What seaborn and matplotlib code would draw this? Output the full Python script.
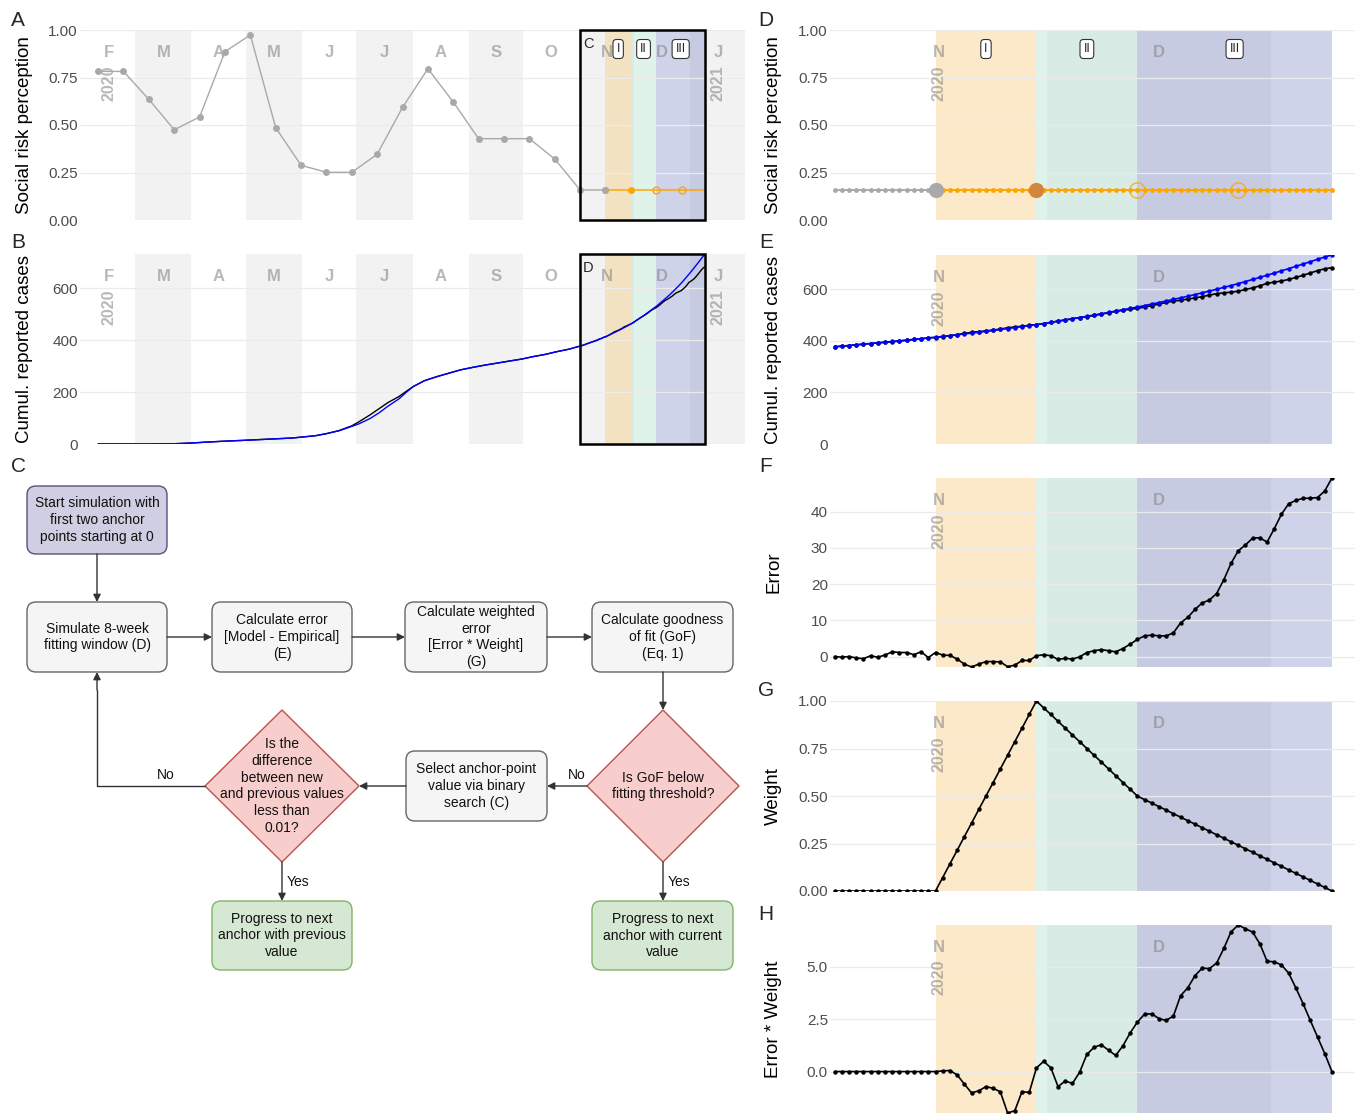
import numpy as np
import pandas as pd
import seaborn as sns
from matplotlib import pyplot as plt
from matplotlib import transforms
from matplotlib.patches import Rectangle, FancyBboxPatch, Polygon

# ---------------- data ----------------
# social risk perception at the two-weekly anchor points (first anchor 9 Feb 2020)
anchor_first = '2020-02-09'
srp_anchor = [0.782, 0.782, 0.635, 0.475, 0.542, 0.886, 0.974, 0.486, 0.288, 0.251,
              0.251, 0.346, 0.593, 0.796, 0.621, 0.428, 0.428, 0.428, 0.321, 0.158,
              0.158, 0.158, 0.158, 0.158]

# cumulative reported cases before the fitting window
cum_dates = ['2020-02-09', '2020-03-10', '2020-03-22', '2020-04-01', '2020-04-08', '2020-04-19',
             '2020-04-29', '2020-05-14', '2020-05-26', '2020-06-08', '2020-06-14', '2020-06-21',
             '2020-06-28', '2020-07-02', '2020-07-08', '2020-07-13', '2020-07-18', '2020-07-24',
             '2020-07-28', '2020-08-01', '2020-08-07', '2020-08-14', '2020-08-21', '2020-08-27',
             '2020-09-03', '2020-09-10', '2020-09-17', '2020-09-23', '2020-09-30', '2020-10-06',
             '2020-10-13', '2020-10-19', '2020-10-26', '2020-10-31']
cum_model_early = [0, 0, 1, 4, 7, 11, 14, 19, 23, 32, 40, 51, 68, 78, 98, 120, 146, 174, 199, 222,
                   244, 260, 274, 286, 296, 305, 313, 320, 328, 337, 346, 356, 366, 376]
cum_emp_early = [0, 0, 1, 4, 7, 11, 14, 19, 23, 32, 40, 52, 70, 86, 112, 136, 160, 183, 203, 222,
                 244, 260, 274, 286, 296, 305, 313, 320, 328, 337, 346, 356, 366, 376]

# 8-week fitting window, daily values from 1 Nov 2020
window_start = '2020-11-01'
srp_window = [0.158] * 70
cum_model = [377.0, 379.4, 381.9, 384.4, 387.0, 389.6, 392.2, 394.9, 397.6, 400.3,
             403.1, 405.9, 408.7, 411.4, 414.0, 417.1, 420.3, 423.5, 426.8, 430.2,
             433.6, 437.1, 440.6, 444.2, 447.9, 451.6, 455.4, 459.2, 463.0, 467.3,
             471.7, 476.2, 480.8, 485.5, 490.3, 495.2, 500.2, 505.3, 510.4, 515.6,
             520.8, 526.0, 531.0, 536.8, 542.7, 548.6, 554.6, 560.7, 566.8, 573.0,
             579.6, 586.3, 593.2, 600.2, 607.3, 614.6, 622.0, 630.0, 638.1, 646.3,
             654.6, 663.0, 671.6, 680.3, 689.1, 698.0, 707.0, 716.1, 725.3, 733.0]
cum_emp = [377.0, 379.6, 381.9, 384.8, 387.6, 389.4, 392.4, 394.5, 396.3, 399.2,
           402.0, 405.4, 407.4, 411.7, 412.9, 416.7, 420.0, 424.2, 428.9, 433.1,
           435.7, 438.5, 442.0, 445.7, 450.7, 454.0, 456.5, 460.3, 462.8, 466.8,
           471.5, 477.0, 481.3, 486.2, 490.4, 494.1, 498.6, 503.4, 508.8, 514.3,
           518.6, 522.6, 526.3, 531.1, 536.8, 542.9, 548.9, 554.2, 557.5, 562.2,
           566.6, 571.5, 577.6, 582.8, 586.1, 588.9, 592.8, 599.2, 605.4, 613.5,
           623.0, 627.7, 632.3, 638.1, 646.0, 654.3, 663.3, 672.2, 679.6, 683.7]
error = [0.0, -0.2, 0.0, -0.4, -0.6, 0.2, -0.2, 0.4, 1.3, 1.1,
         1.1, 0.5, 1.3, -0.3, 1.1, 0.4, 0.3, -0.7, -2.1, -2.9,
         -2.1, -1.4, -1.4, -1.5, -2.8, -2.4, -1.1, -1.1, 0.2, 0.5,
         0.2, -0.8, -0.5, -0.7, -0.1, 1.1, 1.6, 1.9, 1.6, 1.3,
         2.2, 3.4, 4.7, 5.7, 5.9, 5.7, 5.7, 6.5, 9.3, 10.8,
         13.0, 14.8, 15.6, 17.4, 21.2, 25.7, 29.2, 30.8, 32.7, 32.8,
         31.6, 35.3, 39.3, 42.2, 43.1, 43.7, 43.7, 43.9, 45.7, 49.3]
weight = [0, 0, 0, 0, 0, 0, 0, 0, 0, 0, 0, 0, 0, 0, 0,
          0.071, 0.143, 0.214, 0.286, 0.357, 0.429, 0.5, 0.571, 0.643, 0.714, 0.786, 0.857, 0.929, 1.0,
          0.964, 0.929, 0.893, 0.857, 0.821, 0.786, 0.75, 0.714, 0.679, 0.643, 0.607, 0.571, 0.536, 0.5,
          0.481, 0.463, 0.444, 0.426, 0.407, 0.389, 0.370, 0.352, 0.333, 0.315, 0.296, 0.278, 0.259,
          0.241, 0.222, 0.204, 0.185, 0.167, 0.148, 0.130, 0.111, 0.093, 0.074, 0.056, 0.037, 0.019, 0.0]
weighted_error = [0, 0, 0, 0, 0, 0, 0, 0, 0, 0, 0, 0, 0, 0,
                  0.0, 0.03, 0.05, -0.16, -0.60, -1.02, -0.92, -0.72, -0.80, -0.97,
                  -1.98, -1.87, -0.96, -1.0, 0.17, 0.49, 0.18, -0.72, -0.45, -0.57,
                  -0.03, 0.82, 1.16, 1.28, 1.02, 0.77, 1.23, 1.84, 2.36, 2.74,
                  2.76, 2.53, 2.44, 2.65, 3.62, 4.0, 4.58, 4.94, 4.92, 5.18,
                  5.88, 6.67, 7.0, 6.82, 6.66, 6.1, 5.27, 5.24, 5.09, 4.70,
                  3.99, 3.24, 2.44, 1.65, 0.86, 0.0]

phase_names = ['I', 'II', 'III']
phase_edges = ['2020-11-15', '2020-11-29', '2020-12-13', '2021-01-09']
phase_colors = ['#F5CA78', '#B3E2CF', '#8591C8']

# ---------------- helpers ----------------
W, H = 1366, 1114
origin = pd.Timestamp('2020-01-01')


def day(d):
    return (pd.Timestamp(d) - origin).days


anchor_x = [day(d) for d in pd.date_range(anchor_first, periods=len(srp_anchor), freq='14D')]
win_x = [day(window_start) + i for i in range(len(error))]
cum_x = [day(d) for d in cum_dates] + win_x
cum_model_all = cum_model_early + cum_model
cum_emp_all = cum_emp_early + cum_emp
ph_x = [day(d) for d in phase_edges]

sns.set_theme(style='white')
plt.rcParams['font.family'] = ['Liberation Sans', 'DejaVu Sans']
NARROW = ['Liberation Sans Narrow', 'Liberation Sans', 'DejaVu Sans']

fig = plt.figure(figsize=(W / 100, H / 100), dpi=100)


def px_axes(l, t, r, b):
    return fig.add_axes([l / W, 1 - b / H, (r - l) / W, (b - t) / H])


def backdrop(ax, months, xlim, phases=True):
    blend = transforms.blended_transform_factory(ax.transData, ax.transAxes)
    starts = [day(m) - 0.5 for m in months]
    for i in range(len(months) - 1):
        if i % 2 == 1:
            ax.axvspan(starts[i], starts[i + 1], color='#F2F2F2', lw=0, zorder=0.1)
    if phases:
        for i in range(3):
            ax.axvspan(ph_x[i], ph_x[i + 1], color=phase_colors[i], alpha=0.4, lw=0, zorder=0.2)
    first = True
    for i in range(len(months) - 1):
        mid = (starts[i] + starts[i + 1]) / 2
        if not (xlim[0] <= mid <= xlim[1]):
            continue
        ax.text(mid, 0.88, months[i].strftime('%b')[0], transform=blend, ha='center', va='center',
                fontsize=12, fontweight='bold', color='#7F7F7F', alpha=0.55, family=NARROW, zorder=3)
        if first or months[i].month == 1:
            ax.text(mid, 0.72, str(months[i].year), transform=blend, ha='center', va='center',
                    rotation=90, fontsize=11.5, fontweight='bold', color='#7F7F7F', alpha=0.55,
                    family=NARROW, zorder=3)
            first = False


def roman(ax):
    blend = transforms.blended_transform_factory(ax.transData, ax.transAxes)
    for i, name in enumerate(phase_names):
        ax.text((ph_x[i] + ph_x[i + 1]) / 2, 0.9, name, transform=blend, ha='center', va='center',
                fontsize=9, zorder=6,
                bbox=dict(boxstyle='round,pad=0.28', fc='white', ec='#333333', lw=0.8))


def finish(ax, xlim, ylim, ticks, fmt, ylabel, label_x):
    ax.set_xlim(xlim)
    ax.set_ylim(ylim)
    ax.set_yticks(ticks)
    ax.set_yticklabels([fmt.format(t) for t in ticks], family=NARROW)
    ax.set_xticks([])
    ax.set_xlabel('')
    for s in ax.spines.values():
        s.set_visible(False)
    ax.set_axisbelow(True)
    ax.grid(axis='y', color='#EBEBEB', lw=0.9)
    ax.tick_params(axis='y', length=0, pad=1.5, labelsize=11, labelcolor='#4D4D4D')
    ax.set_ylabel(ylabel, fontsize=13.5, color='black')
    ax.yaxis.set_label_coords(label_x, 0.5)
    ax.set_facecolor('none')


def window_box(ax, letter):
    blend = transforms.blended_transform_factory(ax.transData, ax.transAxes)
    x0, x1 = day(window_start), win_x[-1]
    ax.add_patch(Rectangle((x0, 0), x1 - x0, 1, transform=blend, fill=False, ec='black',
                           lw=1.8, zorder=7, clip_on=False))
    ax.text(x0 + 1.5, 0.925, letter, transform=blend, fontsize=10.5, ha='left', va='center', zorder=7)


ORANGE = '#FFA500'
GRAY = '#A9A9A9'
left_months = pd.date_range('2020-02-01', '2021-02-01', freq='MS')
right_months = pd.date_range('2020-11-01', '2021-02-01', freq='MS')
left_xlim = (day('2020-01-30'), day('2021-01-31'))
right_xlim = (win_x[0] - 0.64, win_x[0] + 72.2)
LX, RX = (33 - 80) / 665, (782 - 830) / 525

# ---------------- A ----------------
axA = px_axes(80, 30, 745, 220)
backdrop(axA, left_months, left_xlim)
n_done = 21
sns.lineplot(x=anchor_x[:n_done], y=srp_anchor[:n_done], ax=axA, color=GRAY, lw=1, marker='o',
             markersize=5, markeredgewidth=0, zorder=4)
sns.lineplot(x=win_x[14:], y=srp_window[14:], ax=axA, color=ORANGE, lw=1.5, alpha=0.75, zorder=4)
sns.lineplot(x=anchor_x[n_done - 1:n_done], y=srp_anchor[n_done - 1:n_done], ax=axA, color=GRAY,
             marker='o', markersize=5, markeredgewidth=0, linestyle='', zorder=5)
sns.lineplot(x=anchor_x[n_done:n_done + 1], y=srp_anchor[n_done:n_done + 1], ax=axA, color=ORANGE,
             marker='o', markersize=5, markeredgewidth=0, linestyle='', zorder=5)
sns.lineplot(x=anchor_x[n_done + 1:], y=srp_anchor[n_done + 1:], ax=axA, color=ORANGE, marker='o',
             markersize=5, markerfacecolor='none', markeredgecolor=ORANGE, markeredgewidth=1,
             linestyle='', zorder=5)
roman(axA)
window_box(axA, 'C')
finish(axA, left_xlim, (0, 1), [0, 0.25, 0.5, 0.75, 1], '{:.2f}', 'Social risk perception', LX)

# ---------------- B ----------------
axB = px_axes(80, 254, 745, 444)
backdrop(axB, left_months, left_xlim)
sns.lineplot(x=cum_x, y=cum_emp_all, ax=axB, color='black', lw=1, zorder=4)
sns.lineplot(x=cum_x, y=cum_model_all, ax=axB, color='#0000FF', lw=1, zorder=4)
window_box(axB, 'D')
finish(axB, left_xlim, (0, max(cum_model_all)), [0, 200, 400, 600], '{:d}',
       'Cumul. reported cases', LX)

# ---------------- D ----------------
axD = px_axes(830, 30, 1355, 220)
backdrop(axD, right_months, right_xlim)
sns.lineplot(x=win_x[:15], y=srp_window[:15], ax=axD, color=GRAY, lw=1.4, marker='o',
             markersize=3.5, markeredgewidth=0, zorder=4)
sns.lineplot(x=win_x[14:], y=srp_window[14:], ax=axD, color=ORANGE, lw=1.4, marker='o',
             markersize=3.5, markeredgewidth=0, zorder=4)
sns.lineplot(x=[win_x[14]], y=[srp_window[14]], ax=axD, color=GRAY, marker='o', markersize=11,
             markeredgewidth=0, linestyle='', zorder=5)
sns.lineplot(x=[win_x[28]], y=[srp_window[28]], ax=axD, color='#D2853C', marker='o', markersize=11,
             markeredgewidth=0, linestyle='', zorder=5)
sns.lineplot(x=[win_x[42], win_x[56]], y=[srp_window[42], srp_window[56]], ax=axD, color=ORANGE,
             marker='o', markersize=11, markerfacecolor='none', markeredgecolor=ORANGE,
             markeredgewidth=1, linestyle='', alpha=0.8, zorder=5)
roman(axD)
finish(axD, right_xlim, (0, 1), [0, 0.25, 0.5, 0.75, 1], '{:.2f}', 'Social risk perception', RX)

# ---------------- E ----------------
axE = px_axes(830, 255, 1355, 444)
backdrop(axE, right_months, right_xlim)
sns.lineplot(x=win_x, y=cum_emp, ax=axE, color='black', lw=1.2, marker='o', markersize=3.2,
             markeredgewidth=0, zorder=4)
sns.lineplot(x=win_x, y=cum_model, ax=axE, color='#0000FF', lw=1.2, marker='o', markersize=3.2,
             markeredgewidth=0, zorder=4)
finish(axE, right_xlim, (0, max(cum_model)), [0, 200, 400, 600], '{:d}', 'Cumul. reported cases', RX)

# ---------------- F ----------------
axF = px_axes(830, 478, 1355, 667)
backdrop(axF, right_months, right_xlim)
sns.lineplot(x=win_x, y=error, ax=axF, color='black', lw=1.2, marker='o', markersize=3.2,
             markeredgewidth=0, zorder=4)
finish(axF, right_xlim, (min(error), max(error)), [0, 10, 20, 30, 40], '{:d}', 'Error', RX)

# ---------------- G ----------------
axG = px_axes(830, 701, 1355, 891)
backdrop(axG, right_months, right_xlim)
sns.lineplot(x=win_x, y=weight, ax=axG, color='black', lw=1.2, marker='o', markersize=3.2,
             markeredgewidth=0, zorder=4)
finish(axG, right_xlim, (0, 1), [0, 0.25, 0.5, 0.75, 1], '{:.2f}', 'Weight', RX)

# ---------------- H ----------------
axH = px_axes(830, 925, 1355, 1113)
backdrop(axH, right_months, right_xlim)
sns.lineplot(x=win_x, y=weighted_error, ax=axH, color='black', lw=1.2, marker='o', markersize=3.2,
             markeredgewidth=0, zorder=4)
finish(axH, right_xlim, (min(weighted_error), max(weighted_error)), [0, 2.5, 5.0], '{:.1f}',
       'Error * Weight', RX)

# ---------------- C: flowchart ----------------
fl = px_axes(0, 460, 760, 1114)
fl.set_xlim(0, 760)
fl.set_ylim(1114, 460)
fl.axis('off')
FS = 10


def box(x0, y0, x1, y1, text, fc, ec):
    fl.add_patch(FancyBboxPatch((x0, y0), x1 - x0, y1 - y0,
                                boxstyle='round,pad=0,rounding_size=9', fc=fc, ec=ec, lw=1))
    fl.text((x0 + x1) / 2, (y0 + y1) / 2, text, ha='center', va='center', fontsize=FS,
            linespacing=1.25, color='#111111')


def diamond(cx, cy, hw, hh, text):
    fl.add_patch(Polygon([(cx, cy - hh), (cx + hw, cy), (cx, cy + hh), (cx - hw, cy)],
                         closed=True, fc='#F8CECC', ec='#B85450', lw=1))
    fl.text(cx, cy, text, ha='center', va='center', fontsize=FS, linespacing=1.25, color='#111111')


def arrow(x0, y0, x1, y1):
    fl.annotate('', xy=(x1, y1), xytext=(x0, y0),
                arrowprops=dict(arrowstyle='-|>', color='#333333', lw=1, mutation_scale=11,
                                shrinkA=0, shrinkB=0))


GBOX, GEDGE = '#F5F5F5', '#666666'
box(27, 486, 167, 554, 'Start simulation with\nfirst two anchor\npoints starting at 0', '#D0CEE2', '#56517E')
box(27, 602, 167, 672, 'Simulate 8-week\nfitting window (D)', GBOX, GEDGE)
box(212, 602, 352, 672, 'Calculate error\n[Model - Empirical]\n(E)', GBOX, GEDGE)
box(405, 602, 547, 672, 'Calculate weighted\nerror\n[Error * Weight]\n(G)', GBOX, GEDGE)
box(592, 602, 733, 672, 'Calculate goodness\nof fit (GoF)\n(Eq. 1)', GBOX, GEDGE)
box(406, 751, 547, 821, 'Select anchor-point\nvalue via binary\nsearch (C)', GBOX, GEDGE)
box(212, 901, 352, 970, 'Progress to next\nanchor with previous\nvalue', '#D5E8D4', '#82B366')
box(592, 901, 733, 970, 'Progress to next\nanchor with current\nvalue', '#D5E8D4', '#82B366')
diamond(663, 786, 76, 76, 'Is GoF below\nfitting threshold?')
diamond(282, 786, 77, 76, 'Is the\ndifference\nbetween new\nand previous values\nless than\n0.01?')

arrow(97, 554, 97, 602)
arrow(167, 637, 212, 637)
arrow(352, 637, 405, 637)
arrow(547, 637, 592, 637)
arrow(663, 672, 663, 710)
arrow(587, 786, 547, 786)
arrow(406, 786, 359, 786)
fl.plot([205, 97, 97], [786, 786, 690], color='#333333', lw=1)
arrow(97, 690, 97, 672)
arrow(282, 862, 282, 901)
arrow(663, 862, 663, 901)
for x, y, t in [(577, 775, 'No'), (166, 775, 'No'), (298, 882, 'Yes'), (679, 882, 'Yes')]:
    fl.text(x, y, t, ha='center', va='center', fontsize=FS, color='#111111')

# ---------------- panel letters ----------------
for x, y, t in [(18, 20, 'A'), (18, 243, 'B'), (18, 467, 'C'), (766, 20, 'D'),
                (766, 243, 'E'), (766, 467, 'F'), (766, 690, 'G'), (766, 914, 'H')]:
    fig.text(x / W, 1 - y / H, t, fontsize=15, ha='center', va='center')

fig.savefig('out.png', dpi=100)
